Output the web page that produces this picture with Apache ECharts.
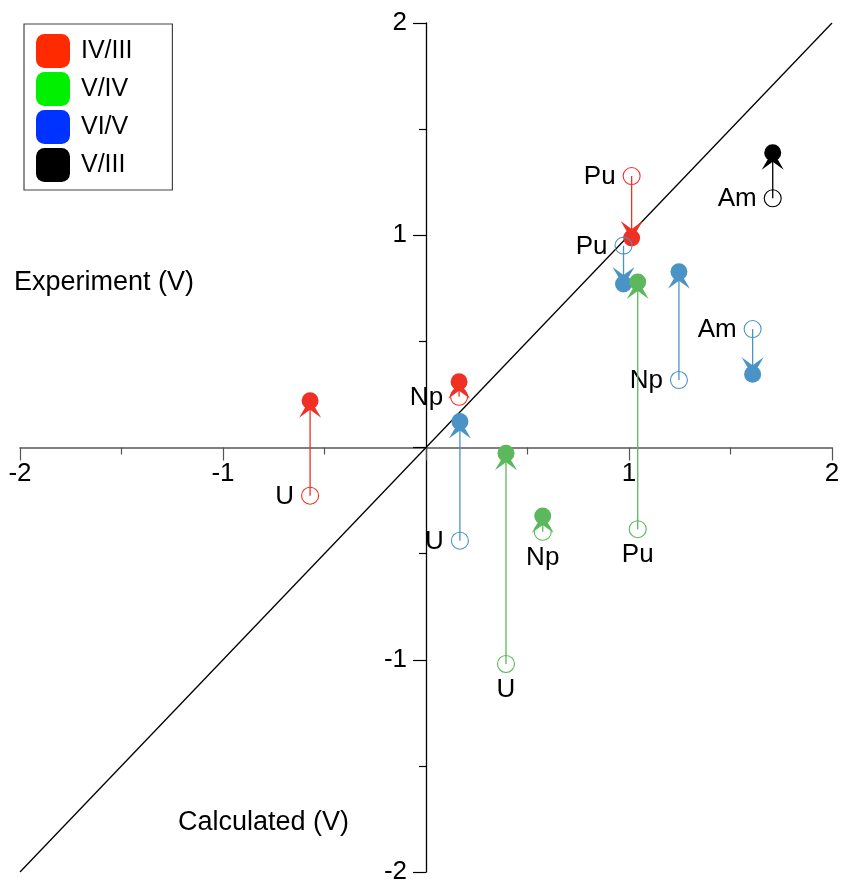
<!DOCTYPE html>
<html>
<head>
<meta charset="utf-8">
<script src="https://cdn.jsdelivr.net/npm/echarts@6/dist/echarts.min.js"></script>
<style>
  html, body { margin: 0; padding: 0; background: #fff; }
  #chart { width: 842px; height: 881px; }
</style>
</head>
<body>
<div id="chart"></div>
<script>
// Redox couples: calculated vs experimental potentials (V).
// Each arrow runs from the open circle (start value) to the filled circle (end value).
const couples = ['IV/III', 'V/IV', 'VI/V', 'V/III'];

const redNames = ['U', 'Np', 'Pu'];
const redCalc = [-0.571, 0.163, 1.013];
const redStart = [-0.227, 0.239, 1.279];
const redEnd = [0.220, 0.310, 0.987];

const greenNames = ['U', 'Np', 'Pu'];
const greenCalc = [0.394, 0.575, 1.043];
const greenStart = [-1.020, -0.397, -0.385];
const greenEnd = [-0.027, -0.323, 0.780];

const blueNames = ['U', 'Pu', 'Np', 'Am'];
const blueCalc = [0.167, 0.973, 1.246, 1.609];
const blueStart = [-0.439, 0.951, 0.318, 0.558];
const blueEnd = [0.122, 0.770, 0.828, 0.345];

const blackNames = ['Am'];
const blackCalc = [1.708];
const blackStart = [1.174];
const blackEnd = [1.389];

const FONT = '"Liberation Sans", Arial, Helvetica, sans-serif';

// plot area
const G = { left: 20, right: 10, top: 23, bottom: 9 };
const W = 842 - G.left - G.right;
const H = 881 - G.top - G.bottom;

function rows(calc, start, end) {
  return calc.map((x, i) => [x, start[i], end[i]]);
}

function arrowSeries(name, color, names, calc, start, end, labelSide) {
  return {
    name: name,
    type: 'custom',
    coordinateSystem: 'cartesian2d',
    encode: { x: 0, y: [1, 2] },
    data: rows(calc, start, end),
    itemStyle: { color: color },
    clip: false,
    z: 5,
    renderItem: function (params, api) {
      const x = api.value(0);
      const p0 = api.coord([x, api.value(1)]);
      const p1 = api.coord([x, api.value(2)]);
      const d = p1[1] >= p0[1] ? 1 : -1;
      const r = 8.5;
      // arrow head (along, side) in pixels, tip at the filled circle centre
      const head = [[0, 0], [-5, 4], [-17, 11], [-9, 0], [-17, -11], [-5, -4]]
        .map(q => [p1[0] + q[1], p1[1] + q[0] * d]);
      const label = names[params.dataIndex];
      const text = labelSide === 'below'
        ? { x: p0[0], y: p0[1] + 26, align: 'center' }
        : { x: p0[0] - 16, y: p0[1] + 1, align: 'right' };
      return {
        type: 'group',
        children: [
          { type: 'line', shape: { x1: p0[0], y1: p0[1], x2: p1[0], y2: p1[1] - 8 * d },
            style: { stroke: color, lineWidth: 1.3 } },
          { type: 'circle', shape: { cx: p0[0], cy: p0[1], r: r },
            style: { fill: 'rgba(255,255,255,0)', stroke: color, lineWidth: 1.1 } },
          { type: 'polygon', shape: { points: head }, style: { fill: color } },
          { type: 'circle', shape: { cx: p1[0], cy: p1[1], r: r }, style: { fill: color } },
          { type: 'text', x: text.x, y: text.y,
            style: { text: label, fill: '#000', font: '26px ' + FONT,
                     align: text.align, verticalAlign: 'middle' } }
        ]
      };
    }
  };
}

const chart = echarts.init(document.getElementById('chart'), null, { renderer: 'canvas' });

const axisLabelFmt = v => (v === 0 ? '' : String(v));

chart.setOption({
  animation: false,
  backgroundColor: '#fff',
  textStyle: { fontFamily: FONT },
  grid: { left: G.left, right: G.right, top: G.top, bottom: G.bottom,
          containLabel: false, outerBoundsMode: 'none' },
  legend: {
    left: 24, top: 24,
    orient: 'vertical',
    icon: 'roundRect',
    itemWidth: 34, itemHeight: 34, itemGap: 4,
    padding: [10, 40, 8, 12],
    borderColor: '#444', borderWidth: 1.2,
    backgroundColor: '#fff',
    selectedMode: false,
    textStyle: { fontSize: 25, color: '#000', fontFamily: FONT, padding: [0, 0, 0, 6] },
    data: [
      { name: couples[0], itemStyle: { color: '#ff2a00' } },
      { name: couples[1], itemStyle: { color: '#00f000' } },
      { name: couples[2], itemStyle: { color: '#0033ff' } },
      { name: couples[3], itemStyle: { color: '#000000' } }
    ]
  },
  // both axes are shifted onto the zero lines so that labels and ticks follow them
  xAxis: {
    type: 'value', min: -2, max: 2, interval: 1,
    position: 'bottom', offset: -H / 2,
    axisLine: { onZero: false, lineStyle: { color: '#555', width: 1.5 } },
    axisTick: { show: true, length: 13, lineStyle: { color: '#555', width: 1.2 } },
    minorTick: { show: true, splitNumber: 2, length: 7, lineStyle: { color: '#555', width: 1.2 } },
    axisLabel: { fontSize: 26, color: '#000', fontFamily: FONT, margin: 13, formatter: axisLabelFmt },
    splitLine: { show: false }
  },
  yAxis: {
    type: 'value', min: -2, max: 2, interval: 1,
    position: 'left', offset: -W / 2,
    axisLine: { onZero: false, lineStyle: { color: '#000', width: 1.3 } },
    axisTick: { show: true, length: 13, lineStyle: { color: '#000', width: 1.2 } },
    minorTick: { show: true, splitNumber: 2, length: 7, lineStyle: { color: '#000', width: 1.2 } },
    axisLabel: { fontSize: 26, color: '#000', fontFamily: FONT, margin: 19, formatter: axisLabelFmt },
    splitLine: { show: false }
  },
  graphic: [
    { type: 'text', left: 14, top: 269, style: { text: 'Experiment (V)', font: '27px ' + FONT, fill: '#000' } },
    { type: 'text', left: 178, top: 809, style: { text: 'Calculated (V)', font: '27px ' + FONT, fill: '#000' } }
  ],
  series: [
    {
      name: 'y = x', type: 'line', data: [[-2, -2], [2, 2]],
      symbol: 'none', silent: true, z: 1,
      lineStyle: { color: '#000', width: 1.3 }
    },
    arrowSeries(couples[0], '#ee3124', redNames, redCalc, redStart, redEnd, 'left'),
    arrowSeries(couples[2], '#4a93c6', blueNames, blueCalc, blueStart, blueEnd, 'left'),
    arrowSeries(couples[1], '#5cb85c', greenNames, greenCalc, greenStart, greenEnd, 'below'),
    arrowSeries(couples[3], '#000000', blackNames, blackCalc, blackStart, blackEnd, 'left')
  ]
});
</script>
</body>
</html>
